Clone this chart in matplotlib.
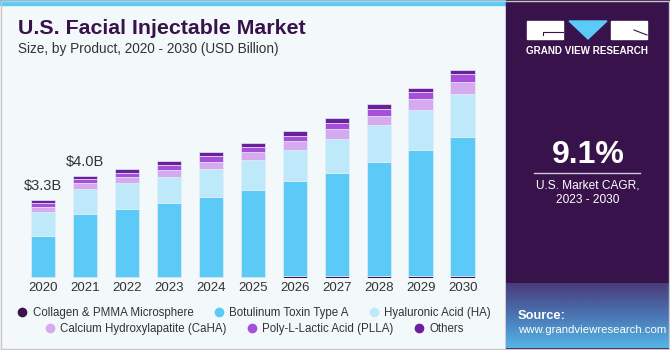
import numpy as np
import matplotlib
matplotlib.use("Agg")
import matplotlib.pyplot as plt
from matplotlib.lines import Line2D
from matplotlib.patches import Rectangle, Polygon
from matplotlib.colors import LinearSegmentedColormap

plt.rcParams['font.family'] = ['Liberation Sans', 'DejaVu Sans']

years = ['2020', '2021', '2022', '2023', '2024', '2025', '2026', '2027', '2028', '2029', '2030']
segments = ['Collagen & PMMA Microsphere', 'Botulinum Toxin Type A', 'Hyaluronic Acid (HA)',
            'Calcium Hydroxylapatite (CaHA)', 'Poly-L-Lactic Acid (PLLA)', 'Others']
collagen = [0.04, 0.06, 0.06, 0.06, 0.06, 0.06, 0.07, 0.08, 0.08, 0.08, 0.08]
botox = [1.75, 2.65, 2.86, 3.10, 3.38, 3.67, 4.02, 4.37, 4.82, 5.33, 5.87]
hyaluronic = [1.00, 1.04, 1.09, 1.13, 1.16, 1.24, 1.31, 1.43, 1.57, 1.69, 1.83]
caha = [0.21, 0.25, 0.28, 0.28, 0.32, 0.36, 0.38, 0.42, 0.39, 0.45, 0.49]
plla = [0.17, 0.17, 0.17, 0.21, 0.24, 0.21, 0.24, 0.24, 0.28, 0.30, 0.34]
others = [0.14, 0.15, 0.16, 0.17, 0.16, 0.19, 0.21, 0.24, 0.24, 0.19, 0.18]
labels = {0: '$3.3B', 1: '$4.0B'}

colors = ['#3b1448', '#5ccaf6', '#bde9fa', '#d5aaee', '#a54fdb', '#6b1f9b']
bg = '#f3f8fb'
panel = '#38124a'

W, H = 670, 350
def fx(v): return v / W
def fy(v): return 1 - v / H

fig = plt.figure(figsize=(6.7, 3.5), dpi=100, facecolor=bg)

# chart
ax = fig.add_axes([0.0203, 0.2057, 0.714, 0.608])
ax.set_facecolor('none')
x = np.arange(len(years))
series = [collagen, botox, hyaluronic, caha, plla, others]
bottom = np.zeros(len(years))
for vals, c in zip(series, colors):
    ax.bar(x, vals, 0.58, bottom=bottom, color=c, edgecolor='#e4eef6', linewidth=0.5)
    bottom += np.array(vals)
for i, t in labels.items():
    ax.text(x[i], bottom[i] + 0.3, t, ha='center', va='bottom', fontsize=10.5, color='#333333')
ax.set_xlim(-0.7, 10.7)
ax.set_ylim(0, 9)
ax.set_xticks(x)
ax.set_xticklabels(years, fontsize=9.5, color='#333333')
ax.tick_params(axis='x', length=0, pad=3)
ax.set_yticks([])
for s in ax.spines.values():
    s.set_visible(False)

# legend in two centred rows
handles = [Line2D([], [], marker='o', linestyle='none', markersize=7, markerfacecolor=c,
                  markeredgecolor='none') for c in colors]
leg_kw = dict(loc='center', ncol=3, frameon=False, fontsize=8.3, handletextpad=0.3,
              columnspacing=1.6, handlelength=1.2)
leg1 = fig.legend(handles[:3], segments[:3], bbox_to_anchor=(fx(253), fy(313)), **leg_kw)
leg2 = fig.legend(handles[3:], segments[3:], bbox_to_anchor=(fx(253), fy(329)), **leg_kw)
for leg in (leg1, leg2):
    for t in leg.get_texts():
        t.set_color('#333333')

# titles
fig.text(fx(18), fy(29), 'U.S. Facial Injectable Market', fontsize=15.4, fontweight='bold',
         color=panel, va='center')
fig.text(fx(18), fy(49), 'Size, by Product, 2020 - 2030 (USD Billion)', fontsize=9.8,
         color='#333333', va='center')

# top stripe
fig.patches.append(Rectangle((0, fy(5)), fx(506), 5 / H, transform=fig.transFigure,
                             color='#5ccaf6', zorder=0))

# right panel
fig.patches.append(Rectangle((fx(506), 0), 1 - fx(506), 1, transform=fig.transFigure,
                             color=panel, zorder=1))
pax = fig.add_axes([fx(506), 0.005, 1 - fx(506), fy(283) - 0.005])
pax.set_zorder(2)
grad = np.linspace(0, 1, 100)[:, None]
cmap = LinearSegmentedColormap.from_list('g', ['#4a3a78', '#4a74b2', '#55b6e6'])
pax.imshow(grad, aspect='auto', cmap=cmap, origin='upper', extent=[0, 1, 0, 1])
pax.axis('off')
fig.text(fx(518), fy(316), 'Source:', fontsize=9.3, fontweight='bold', color='white',
         va='center', zorder=4)
fig.text(fx(518), fy(330), 'www.grandviewresearch.com', fontsize=8.2, color='white',
         va='center', zorder=4)

# logo
fig.patches.append(Rectangle((fx(527), fy(39)), fx(36), 18 / H, transform=fig.transFigure,
                             color='white', zorder=2))
fig.patches.append(Rectangle((fx(611), fy(39)), fx(36), 18 / H, transform=fig.transFigure,
                             color='white', zorder=2))
fig.patches.append(Polygon([(fx(569), fy(21)), (fx(607), fy(21)), (fx(588), fy(39))],
                           transform=fig.transFigure, color='#5ccaf6', zorder=2))
fig.lines.append(Line2D([fx(543), fx(543), fx(563)], [fy(35), fy(32), fy(32)],
                        transform=fig.transFigure, color=panel, linewidth=0.8, zorder=3))
fig.lines.append(Line2D([fx(634), fx(647)], [fy(30), fy(35)],
                        transform=fig.transFigure, color=panel, linewidth=0.8, zorder=3))
fig.text(fx(587), fy(51), 'GRAND VIEW RESEARCH', fontsize=7.1, fontweight='bold', color='white',
         ha='center', va='center', zorder=3)

fig.text(fx(588), fy(155), '9.1%', fontsize=23, fontweight='bold', color='white',
         ha='center', va='center', zorder=3)
fig.lines.append(Line2D([fx(534), fx(640)], [fy(173), fy(173)], transform=fig.transFigure,
                        color='#d0c8d8', linewidth=1, zorder=3))
fig.text(fx(588), fy(185), 'U.S. Market CAGR,', fontsize=8.6, color='white', ha='center',
         va='center', zorder=3)
fig.text(fx(588), fy(200), '2023 - 2030', fontsize=8.6, color='white', ha='center',
         va='center', zorder=3)

fig.patches.append(Rectangle((0.0015, 0.003), 0.997, 0.994, transform=fig.transFigure,
                             fill=False, edgecolor='#c8c8c8', linewidth=1, zorder=5))

fig.savefig('out.png', dpi=100, facecolor=bg)
